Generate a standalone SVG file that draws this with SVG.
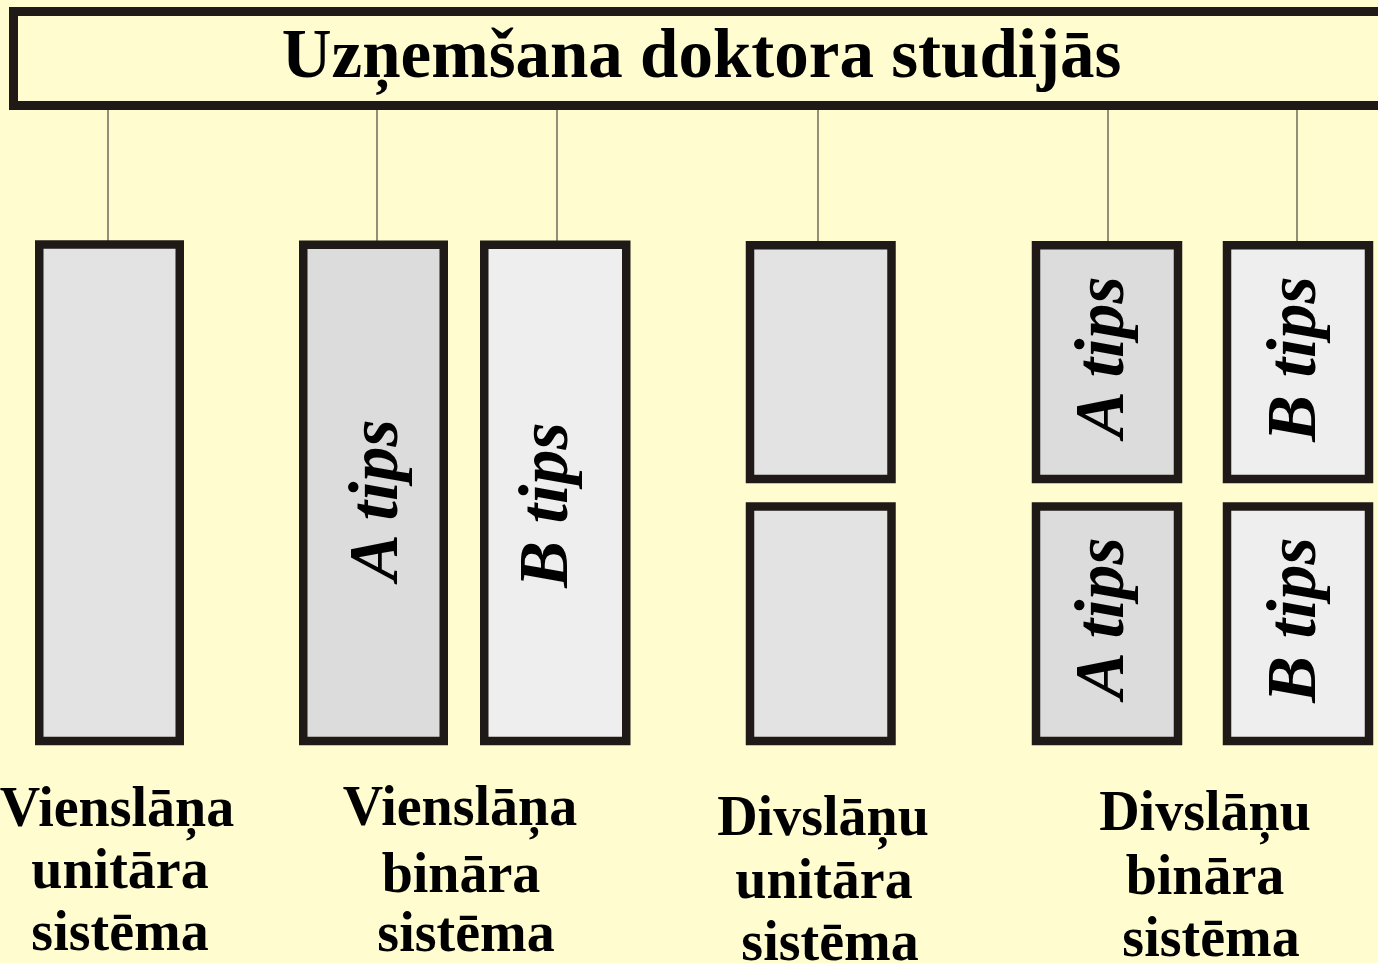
<svg xmlns="http://www.w3.org/2000/svg" width="1378" height="963" viewBox="0 0 1378 963">
<style>
.bg{fill:#FFFDD0}
.box{stroke:#1F1A17;stroke-width:8.5}
.u{fill:#E3E3E3}
.a{fill:#DCDCDC}
.b{fill:#EEEEEE}
.title{fill:#FFFDD0;stroke:#1F1A17;stroke-width:9}
.conn line{stroke:#4A4740;stroke-width:1.2}
.lbl{font-family:"Liberation Serif","Times New Roman",serif;font-weight:bold;font-size:56px;fill:#000;text-anchor:middle}
.tip{font-family:"Liberation Serif","Times New Roman",serif;font-weight:bold;font-style:italic;font-size:70px;fill:#000;text-anchor:middle}
.ttl{font-family:"Liberation Serif","Times New Roman",serif;font-weight:bold;font-size:69px;fill:#000;text-anchor:middle}
</style>
<rect class="bg" x="0" y="0" width="1378" height="963"/>
<g id="connectors" class="conn">
<line x1="108" y1="110" x2="108" y2="241"/>
<line x1="377" y1="110" x2="377" y2="241"/>
<line x1="557" y1="110" x2="557" y2="241"/>
<line x1="818" y1="110" x2="818" y2="241"/>
<line x1="1108" y1="110" x2="1108" y2="241"/>
<line x1="1297" y1="110" x2="1297" y2="241"/>
</g>
<g id="title">
<rect class="title" x="13.5" y="11.5" width="1380" height="94"/>
<text class="ttl" x="701.5" y="77">Uzņemšana doktora studijās</text>
</g>
<g id="vu">
<rect class="box u" x="39.25" y="244.5" width="140.5" height="496.5"/>
<text class="lbl" x="117" y="826">Vienslāņa</text>
<text class="lbl" x="120" y="888">unitāra</text>
<text class="lbl" x="120" y="950">sistēma</text>
</g>
<g id="vb">
<g id="vb-a">
<rect class="box a" x="303.25" y="244.75" width="140.5" height="496.25"/>
<text class="tip" transform="translate(397,500) rotate(-90)" x="0" y="0">A tips</text>
</g>
<g id="vb-b">
<rect class="box b" x="484.25" y="244.75" width="142" height="496.25"/>
<text class="tip" transform="translate(567,505) rotate(-90)" x="0" y="0">B tips</text>
</g>
<text class="lbl" x="460" y="825">Vienslāņa</text>
<text class="lbl" x="461" y="892">bināra</text>
<text class="lbl" x="466" y="951">sistēma</text>
</g>
<g id="du">
<rect class="box u" x="750" y="245.25" width="141.5" height="233.75"/>
<rect class="box u" x="750" y="506.5" width="141.5" height="234.5"/>
<text class="lbl" x="823" y="835">Divslāņu</text>
<text class="lbl" x="824" y="898">unitāra</text>
<text class="lbl" x="830" y="960">sistēma</text>
</g>
<g id="db">
<g id="db-a1">
<rect class="box a" x="1036" y="245.25" width="142" height="233.75"/>
<text class="tip" transform="translate(1123,357) rotate(-90)" x="0" y="0">A tips</text>
</g>
<g id="db-b1">
<rect class="box b" x="1227" y="245.25" width="142" height="233.75"/>
<text class="tip" transform="translate(1315,359) rotate(-90)" x="0" y="0">B tips</text>
</g>
<g id="db-a2">
<rect class="box a" x="1036" y="506.5" width="142" height="234.5"/>
<text class="tip" transform="translate(1123,618) rotate(-90)" x="0" y="0">A tips</text>
</g>
<g id="db-b2">
<rect class="box b" x="1227" y="506.5" width="142" height="234.5"/>
<text class="tip" transform="translate(1315,620) rotate(-90)" x="0" y="0">B tips</text>
</g>
<text class="lbl" x="1205" y="830">Divslāņu</text>
<text class="lbl" x="1205" y="894">bināra</text>
<text class="lbl" x="1211" y="956">sistēma</text>
</g>
</svg>
